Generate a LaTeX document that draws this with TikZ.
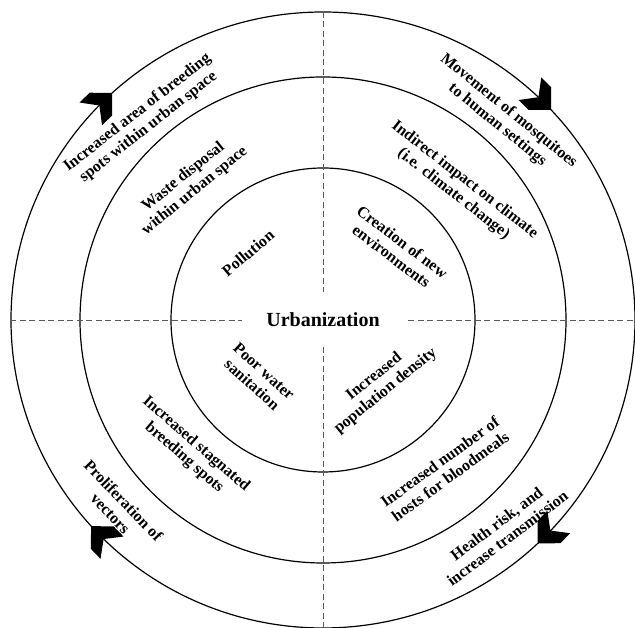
\documentclass[tikz,border=0pt]{standalone}
\usepackage{fontspec}
\setmainfont{Liberation Serif}
\usetikzlibrary{calc}
\tikzset{
  ring/.style={line width=1.2pt, black},
  axis/.style={line width=0.7pt, gray!70!black, dash pattern=on 6pt off 3.5pt},
  lbl/.style={font=\fontsize{16}{18}\selectfont\bfseries, align=center, inner sep=0pt},
  title/.style={font=\fontsize{20}{24}\selectfont\bfseries, inner sep=0pt},
  chev/.style={fill=black}
}
\begin{document}
\begin{tikzpicture}[x=1pt,y=1pt]
\useasboundingbox (0,0) rectangle (635,628);
\coordinate (C) at (323,308);
% rings
\draw[ring] (C) ellipse [x radius=312, y radius=308];
\draw[ring] (C) circle [radius=243];
\draw[ring] (C) circle [radius=152];
% dashed axes
\draw[axis] (10,308) -- (242,308);
\draw[axis] (408,308) -- (635,308);
\draw[axis] (323,616) -- (323,336);
\draw[axis] (323,281) -- (323,1);
% centre
\node[title] (urb) at (C) {Urbanization};
% inner ring
\node[lbl, rotate=40] (pol) at (248,375) {Pollution};
\node[lbl, rotate=-37] (cre) at (397,379) {Creation of new\\environments};
\node[lbl, rotate=-42] (poor) at (258,250) {Poor water\\sanitation};
\node[lbl, rotate=39] (pop) at (380,244) {Increased\\population density};
% middle ring
\node[lbl, rotate=39] (waste) at (189,444) {Waste disposal\\within urban space};
\node[lbl, rotate=-38] (ind) at (459,441) {Indirect impact on climate\\(i.e. climate change)};
\node[lbl, rotate=-41] (stag) at (190,177) {Increased stagnated\\breeding spots};
\node[lbl, rotate=36] (hosts) at (445,159) {Increased number of\\hosts for bloodmeals};
% outer ring
\node[lbl, rotate=38] (area) at (143,508) {Increased area of breeding\\spots within urban space};
\node[lbl, rotate=-39] (move) at (503,510) {Movement of mosquitoes\\to human settings};
\node[lbl, rotate=-46] (prol) at (117,121) {Proliferation of\\vectors};
\node[lbl, rotate=37] (health) at (502,97) {Health risk, and\\increase transmission};
% chevrons (clockwise flow)
\foreach \a in {132.5, 43, -46.5, 222}{
  \fill[chev, shift={($(C)+(\a:312 and 308)$)}, rotate=\a-88]
    (0,0) -- (-16,16) -- (-30,16) -- (-18,0) -- (-30,-16) -- (-16,-16) -- cycle;
}
\end{tikzpicture}
\end{document}
